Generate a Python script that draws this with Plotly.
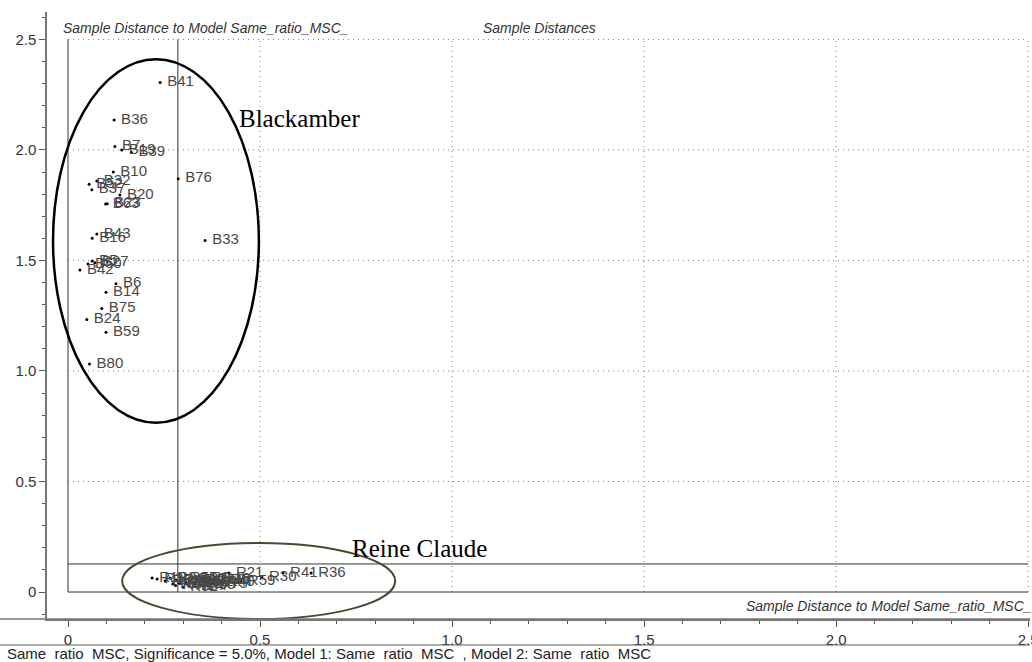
import plotly.graph_objects as go

# ---- data ----
b_names = ["B41", "B36", "B7", "B19", "B39", "B10", "B76", "B32", "B52", "B37",
           "B20", "B63", "B23", "B43", "B16", "B33", "B5", "B27", "B50", "B42",
           "B6", "B14", "B75", "B24", "B59", "B80"]
b_x = [0.240, 0.120, 0.122, 0.140, 0.165, 0.118, 0.287, 0.075, 0.055, 0.062,
       0.135, 0.098, 0.102, 0.075, 0.063, 0.357, 0.063, 0.070, 0.052, 0.031,
       0.125, 0.099, 0.088, 0.049, 0.099, 0.056]
b_y = [2.305, 2.135, 2.015, 2.000, 1.990, 1.900, 1.870, 1.860, 1.845, 1.820,
       1.796, 1.755, 1.757, 1.620, 1.600, 1.590, 1.498, 1.490, 1.484, 1.457,
       1.395, 1.356, 1.283, 1.233, 1.175, 1.032]

r_names = ["R19", "R3", "R62", "R8", "R27", "R48", "R11", "R55", "R70", "R14",
           "R33", "R46", "R2", "R65", "R9", "R24", "R58", "R73", "R16", "R40",
           "R5", "R21", "R52", "R59", "R30", "R41", "R36", "R67", "R77", "R32"]
r_x = [0.219, 0.232, 0.253, 0.266, 0.273, 0.281, 0.292, 0.299, 0.307, 0.315,
       0.323, 0.331, 0.339, 0.346, 0.354, 0.362, 0.370, 0.378, 0.385, 0.396,
       0.406, 0.419, 0.300, 0.450, 0.505, 0.560, 0.633, 0.280, 0.330, 0.290]
r_y = [0.063, 0.059, 0.050, 0.063, 0.036, 0.054, 0.041, 0.063, 0.045, 0.027,
       0.059, 0.041, 0.054, 0.032, 0.063, 0.045, 0.054, 0.036, 0.059, 0.045,
       0.054, 0.086, 0.022, 0.050, 0.068, 0.086, 0.086, 0.030, 0.025, 0.040]

grid_vals = [0.5, 1.0, 1.5, 2.0, 2.5]
grid_max = 2.5
x_limit = 0.286   # critical limit, model 1
y_limit = 0.127   # critical limit, model 2

FONT = "Arial, 'Liberation Sans', sans-serif"
SERIF = "'Times New Roman', 'Liberation Serif', serif"

fig = go.Figure()
for names, xs, ys in [(b_names, b_x, b_y), (r_names, r_x, r_y)]:
    fig.add_trace(go.Scatter(
        x=xs, y=ys, mode="markers+text",
        text=["\u00a0" + n for n in names], textposition="middle right",
        marker=dict(size=3, color="black"),
        textfont=dict(family=FONT, size=15, color="#484848"),
        hoverinfo="skip", showlegend=False, cliponaxis=True))

shapes = []
for v in grid_vals:
    shapes.append(dict(type="line", xref="x", yref="y", x0=v, x1=v, y0=0, y1=grid_max,
                       line=dict(color="#808080", width=1, dash="1px,4px"), layer="below"))
    shapes.append(dict(type="line", xref="x", yref="y", x0=0, x1=grid_max, y0=v, y1=v,
                       line=dict(color="#808080", width=1, dash="1px,4px"), layer="below"))
for xv in [0, x_limit]:
    shapes.append(dict(type="line", xref="x", yref="y", x0=xv, x1=xv, y0=0, y1=grid_max,
                       line=dict(color="#333333", width=1), layer="below"))
for yv in [0, y_limit]:
    shapes.append(dict(type="line", xref="x", yref="y", x0=0, x1=grid_max, y0=yv, y1=yv,
                       line=dict(color="#333333", width=1), layer="below"))
# ellipses
shapes.append(dict(type="circle", xref="x", yref="y", x0=-0.039, x1=0.497, y0=0.766, y1=2.41,
                   line=dict(color="black", width=2.5)))
shapes.append(dict(type="circle", xref="x", yref="y", x0=0.141, x1=0.852, y0=-0.122, y1=0.222,
                   line=dict(color="#4f4532", width=2)))
# frame extras
shapes.append(dict(type="line", xref="paper", yref="paper", x0=-0.048, x1=1, y0=0, y1=0,
                   line=dict(color="#777777", width=1.5)))
shapes.append(dict(type="line", xref="paper", yref="paper", x0=-0.048, x1=1, y0=-0.0428, y1=-0.0428,
                   line=dict(color="#555555", width=1)))

annotations = [
    dict(text="Sample Distance to Model Same_ratio_MSC_", xref="x", yref="y", x=-0.018, y=2.552,
         xanchor="left", yanchor="middle", showarrow=False,
         font=dict(family=FONT, size=14, color="#333333", style="italic")),
    dict(text="Sample Distances", xref="x", yref="y", x=1.076, y=2.552,
         xanchor="left", yanchor="middle", showarrow=False,
         font=dict(family=FONT, size=14, color="#333333", style="italic")),
    dict(text="Sample Distance to Model Same_ratio_MSC_", xref="paper", yref="y", x=1.004, y=-0.063,
         xanchor="right", yanchor="middle", showarrow=False,
         font=dict(family=FONT, size=14, color="#333333", style="italic")),
    dict(text="Blackamber", xref="x", yref="y", x=0.44, y=2.14,
         xanchor="left", yanchor="middle", showarrow=False,
         font=dict(family=SERIF, size=25, color="black")),
    dict(text="Reine Claude", xref="x", yref="y", x=0.734, y=0.195,
         xanchor="left", yanchor="middle", showarrow=False,
         font=dict(family=SERIF, size=25, color="black")),
    dict(text="Same\u00a0 ratio\u00a0 MSC, Significance = 5.0%, Model 1: Same\u00a0 ratio\u00a0 MSC\u00a0 , Model 2: Same\u00a0 ratio\u00a0 MSC",
         xref="paper", yref="paper", x=-0.0427, y=-0.057,
         xanchor="left", yanchor="middle", showarrow=False,
         font=dict(family=FONT, size=15, color="#222222")),
]

axis_common = dict(
    showgrid=False, zeroline=False, showline=True, linecolor="#777777", linewidth=1.5,
    ticks="outside", ticklen=6, tickcolor="#555555", tickmode="linear", tick0=0, dtick=0.5,
    tickformat=".1f", labelalias={"0.0": "0"}, ticklabeloverflow="allow", automargin=False,
    tickfont=dict(family=FONT, size=15, color="#333333"),
    minor=dict(ticks="outside", ticklen=3, dtick=0.1, tick0=0, tickcolor="#555555", showgrid=False),
)

fig.update_layout(
    width=1032, height=662,
    margin=dict(l=47, r=2, t=12, b=43, autoexpand=False),
    paper_bgcolor="white", plot_bgcolor="white",
    xaxis=dict(range=[-0.0547, 2.505], **axis_common),
    yaxis=dict(range=[-0.122, 2.624], **axis_common),
    shapes=shapes, annotations=annotations,
)

fig.write_html("out.html", config={"displayModeBar": False},
               post_script="document.body.style.margin='0px';")
